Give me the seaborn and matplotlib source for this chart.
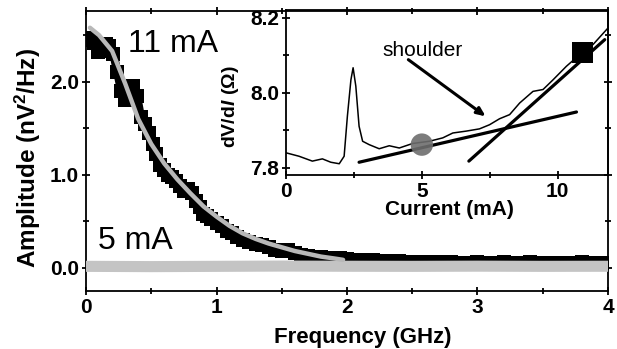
import matplotlib
matplotlib.use('Agg')
import matplotlib.pyplot as plt
import seaborn as sns
import pandas as pd
from matplotlib.ticker import MultipleLocator

# ---------------- data ----------------
freq_11mA = [0.00, 0.03, 0.06, 0.09, 0.12, 0.15, 0.18, 0.21, 0.24, 0.27,
             0.30, 0.33, 0.36, 0.39, 0.42, 0.45, 0.48, 0.51, 0.54, 0.57,
             0.60, 0.63, 0.66, 0.69, 0.72, 0.75, 0.78, 0.81, 0.84, 0.87,
             0.90, 0.93, 0.96, 1.00, 1.04, 1.08, 1.12, 1.16, 1.20, 1.25,
             1.30, 1.35, 1.40, 1.45, 1.50, 1.55, 1.60, 1.65, 1.70, 1.75,
             1.80, 1.85, 1.90, 1.95, 2.00, 2.10, 2.20, 2.30, 2.40, 2.50,
             2.60, 2.70, 2.80, 2.90, 3.00, 3.10, 3.20, 3.30, 3.40, 3.50,
             3.60, 3.70, 3.80, 3.90, 4.00]
amp_11mA = [2.45, 2.47, 2.42, 2.32, 2.33, 2.40, 2.38, 2.30, 2.10, 1.90,
            1.80, 1.92, 1.95, 1.85, 1.62, 1.55, 1.45, 1.33, 1.22, 1.10,
            1.05, 1.00, 0.98, 0.93, 0.88, 0.83, 0.85, 0.80, 0.72, 0.65,
            0.58, 0.56, 0.52, 0.48, 0.45, 0.40, 0.37, 0.33, 0.30, 0.28,
            0.26, 0.24, 0.22, 0.19, 0.18, 0.19, 0.16, 0.14, 0.13, 0.12,
            0.12, 0.11, 0.10, 0.10, 0.09, 0.08, 0.08, 0.07, 0.07, 0.06,
            0.06, 0.06, 0.06, 0.055, 0.06, 0.055, 0.06, 0.055, 0.06, 0.055,
            0.05, 0.055, 0.06, 0.055, 0.055]

fit_freq = [0.03, 0.10, 0.20, 0.30, 0.40, 0.50, 0.60, 0.70, 0.80, 0.90,
            1.00, 1.10, 1.20, 1.30, 1.40, 1.50, 1.60, 1.70, 1.80, 1.90, 1.97]
fit_amp = [2.58, 2.50, 2.33, 1.98, 1.60, 1.33, 1.12, 0.95, 0.80, 0.66,
           0.55, 0.45, 0.37, 0.31, 0.26, 0.22, 0.18, 0.15, 0.12, 0.10, 0.085]

freq_5mA = [0.0, 0.5, 1.0, 1.5, 2.0, 2.5, 3.0, 3.5, 4.0]
amp_5mA = [0.015, 0.012, 0.015, 0.018, 0.016, 0.015, 0.017, 0.015, 0.016]

current = [0.01, 0.48, 0.97, 1.34, 1.65, 1.96, 2.14, 2.26, 2.39, 2.47,
           2.57, 2.69, 2.82, 3.06, 3.43, 3.80, 4.17, 4.66, 5.28, 5.77,
           6.14, 6.63, 7.12, 7.49, 7.86, 8.23, 8.60, 9.09, 9.46, 9.83,
           10.32, 10.81, 11.30, 11.85]
dvdi = [7.840, 7.831, 7.818, 7.824, 7.815, 7.811, 7.831, 7.938, 8.035, 8.067,
        8.018, 7.911, 7.871, 7.862, 7.851, 7.859, 7.853, 7.865, 7.871, 7.880,
        7.893, 7.898, 7.904, 7.915, 7.931, 7.942, 7.973, 8.004, 8.009, 8.035,
        8.071, 8.102, 8.129, 8.173]

fit1_current = [2.69, 10.69]
fit1_dvdi = [7.815, 7.949]
fit2_current = [6.73, 11.73]
fit2_dvdi = [7.818, 8.142]

circle_current = [5.0]
circle_dvdi = [7.862]
square_current = [10.92]
square_dvdi = [8.107]

# ---------------- style ----------------
sns.set_style('ticks')
plt.rcParams['font.family'] = ['Liberation Sans', 'DejaVu Sans']
plt.rcParams['font.weight'] = 'bold'
plt.rcParams['axes.labelweight'] = 'bold'
plt.rcParams['mathtext.fontset'] = 'custom'
plt.rcParams['mathtext.rm'] = 'Liberation Sans:bold'
plt.rcParams['mathtext.it'] = 'Liberation Sans:bold:italic'
plt.rcParams['mathtext.bf'] = 'Liberation Sans:bold'
for k in ['axes.edgecolor', 'xtick.color', 'ytick.color', 'text.color',
          'axes.labelcolor']:
    plt.rcParams[k] = 'black'
plt.rcParams['axes.linewidth'] = 1.3

fig = plt.figure(figsize=(6.17, 3.49), dpi=100)
ax = fig.add_axes([0.1394, 0.1662, 0.846, 0.8023])

df11 = pd.DataFrame({'f': freq_11mA, 'a': amp_11mA})
dfit = pd.DataFrame({'f': fit_freq, 'a': fit_amp})
df5 = pd.DataFrame({'f': freq_5mA, 'a': amp_5mA})

sns.lineplot(data=df11, x='f', y='a', ax=ax, color='black', lw=6,
             marker='s', markersize=10, markeredgewidth=0, sort=False,
             estimator=None, zorder=2)
sns.lineplot(data=df5, x='f', y='a', ax=ax, color='#c4c4c4', lw=8,
             sort=False, estimator=None, zorder=3)
sns.lineplot(data=dfit, x='f', y='a', ax=ax, color='#b8b8b8', lw=3.2,
             sort=False, estimator=None, zorder=4)

ax.set_xlim(0, 4)
ax.set_ylim(-0.25, 2.76)
ax.xaxis.set_major_locator(MultipleLocator(1))
ax.xaxis.set_minor_locator(MultipleLocator(0.5))
ax.yaxis.set_major_locator(MultipleLocator(1))
ax.yaxis.set_minor_locator(MultipleLocator(0.5))
ax.xaxis.set_major_formatter(plt.FuncFormatter(lambda v, p: f'{v:.0f}'))
ax.yaxis.set_major_formatter(plt.FuncFormatter(lambda v, p: f'{v:.1f}'))
ax.tick_params(which='both', direction='inout', top=True, right=True,
               labelsize=15, width=1.3, pad=2)
ax.tick_params(which='major', length=6)
ax.tick_params(which='minor', length=4)

ax.set_xlabel('Frequency (GHz)', fontsize=16, va='top')
ax.set_ylabel('Amplitude (nV$^2$/Hz)', fontsize=17.5)
ax.xaxis.set_label_coords(0.531, -0.13)
ax.yaxis.set_label_coords(-0.082, 0.475)

ax.text(0.32, 2.40, '11 mA', fontsize=23, fontweight='normal',
        ha='left', va='center')
ax.text(0.09, 0.29, '5 mA', fontsize=23, fontweight='normal',
        ha='left', va='center')

# ---------------- inset ----------------
ins = fig.add_axes([0.4635, 0.4986, 0.5219, 0.4727])
ins.patch.set_alpha(0)

dfi = pd.DataFrame({'c': current, 'r': dvdi})
sns.lineplot(data=dfi, x='c', y='r', ax=ins, color='black', lw=1.1,
             sort=False, estimator=None)
sns.lineplot(x=fit1_current, y=fit1_dvdi, ax=ins, color='black', lw=2.3,
             sort=False, estimator=None)
sns.lineplot(x=fit2_current, y=fit2_dvdi, ax=ins, color='black', lw=2.3,
             sort=False, estimator=None)
sns.scatterplot(x=circle_current, y=circle_dvdi, ax=ins, marker='o', s=260,
                color='#6e6e6e', edgecolor='none', alpha=0.9, zorder=5)
sns.scatterplot(x=square_current, y=square_dvdi, ax=ins, marker='s', s=230,
                color='black', edgecolor='none', zorder=5)

ins.annotate('', xy=(7.43, 7.933), xytext=(4.42, 8.093),
             arrowprops=dict(arrowstyle='-|>,head_length=0.5,head_width=0.22',
                             lw=2.2, color='black'))
ins.text(3.54, 8.113, 'shoulder', fontsize=15, fontweight='normal',
         ha='left', va='center')

ins.set_xlim(0, 11.85)
ins.set_ylim(7.781, 8.221)
ins.xaxis.set_major_locator(MultipleLocator(5))
ins.xaxis.set_minor_locator(MultipleLocator(2.5))
ins.yaxis.set_major_locator(MultipleLocator(0.2))
ins.yaxis.set_minor_locator(MultipleLocator(0.1))
ins.yaxis.set_major_formatter(plt.FuncFormatter(lambda v, p: f'{v:.1f}'))
ins.tick_params(which='both', direction='inout', labelsize=15, width=1.3, pad=2)
ins.tick_params(which='major', length=6)
ins.tick_params(which='minor', length=4)
ins.set_xlabel('Current (mA)', fontsize=15, va='top')
ins.set_ylabel('dV/d$\\mathit{I}$ (Ω)', fontsize=14)
ins.xaxis.set_label_coords(0.509, -0.152)
ins.yaxis.set_label_coords(-0.14, 0.412)

fig.savefig('out.png', dpi=100)
